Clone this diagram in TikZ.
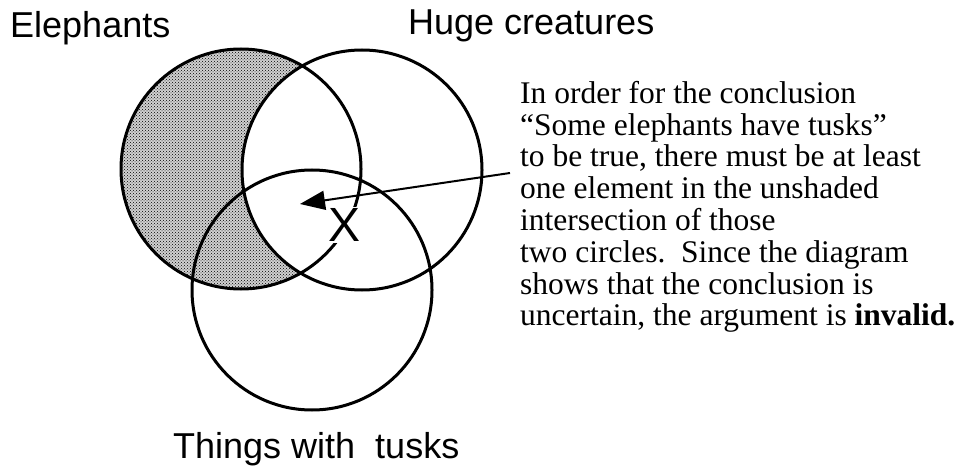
\documentclass[tikz,border=0pt]{standalone}
\usepackage{fontspec}
\setmainfont{Liberation Serif}
\newfontfamily\labelfont{Liberation Sans}
\usetikzlibrary{arrows.meta,patterns}

\tikzset{
  setline/.style={line width=3pt},
  setlabel/.style={font=\labelfont\fontsize{36}{40}\selectfont, inner sep=0pt, anchor=base west},
  shaded/.style={fill=black!18, postaction={pattern=crosshatch dots, pattern color=black}},
  pointer/.style={line width=2pt, -{Triangle[length=25pt,width=19pt]}}
}

\begin{document}
\begin{tikzpicture}[x=1pt,y=-1pt]
    \useasboundingbox (0,0) rectangle (964,468);

    \coordinate (elephants) at (241,169);
    \coordinate (huge) at (362,170);
    \coordinate (tusks) at (312,290);

    % elephants that are not huge creatures
    \begin{scope}
        \clip (elephants) circle (120pt);
        \fill[shaded, even odd rule] (elephants) circle (120pt) (huge) circle (120pt);
    \end{scope}

    \draw[setline] (elephants) circle (120pt);
    \draw[setline] (huge) circle (120pt);
    \draw[setline] (tusks) circle (120pt);

    \node[setlabel] (elabel) at (10,38) {Elephants};
    \node[setlabel] (hlabel) at (408,35) {Huge creatures};
    \node[setlabel] (tlabel) at (173,458) {Things with\ \ tusks};

    \node[fill=white, inner sep=1pt, font=\labelfont\fontsize{48}{50}\selectfont] (xmark) at (345,225) {X};

    \node[align=left, anchor=north west, inner sep=0pt, font=\fontsize{31.5}{31.8}\selectfont] (note) at (520,81)
        {In order for the conclusion\\
         “Some elephants have tusks”\\
         to be true, there must be at least\\
         one element in the unshaded\\
         intersection of those\\
         two circles.\ \ Since the diagram\\
         shows that the conclusion is\\
         uncertain, the argument is \textbf{invalid.}};

    \coordinate (arrowstart) at (510,173);
    \coordinate (target) at (300,204);
    \draw[pointer] (arrowstart) -- (target);
\end{tikzpicture}
\end{document}
